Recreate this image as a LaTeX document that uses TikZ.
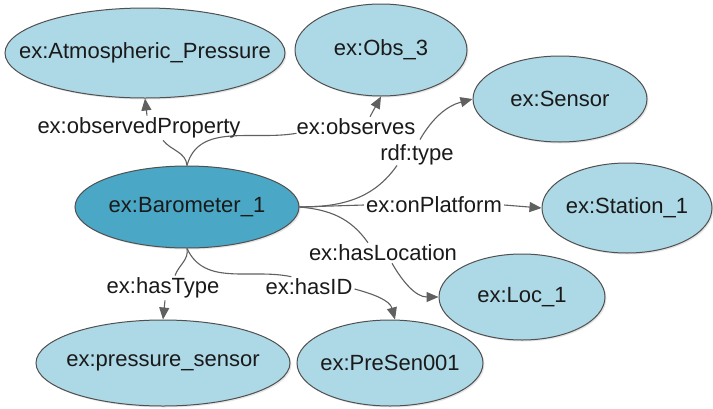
\documentclass[tikz,border=0pt]{standalone}
\usepackage{fontspec}
\setmainfont{Liberation Sans}
\usetikzlibrary{arrows.meta,shapes.geometric,calc,shadows}
\definecolor{nodefill}{HTML}{ADD8E6}
\definecolor{focusfill}{HTML}{4AA8C6}
\definecolor{rim}{HTML}{505050}
\definecolor{wire}{HTML}{606060}
\definecolor{ink}{HTML}{1A1A1A}
% centred text of zero width, so the ellipse keeps its given size
\newcommand{\restext}[1]{\makebox[0pt]{#1}}
\begin{document}
\begin{tikzpicture}[x=1pt,y=1pt,
  resource/.style={ellipse, draw=rim, line width=1pt, fill=nodefill, inner sep=0pt,
    text=ink, font=\fontsize{22}{24}\selectfont,
    drop shadow={shadow xshift=1.5pt, shadow yshift=-1.5pt, opacity=0.2}},
  focus/.style={resource, fill=focusfill},
  prop/.style={inner sep=2pt, text=ink, font=\fontsize{22}{24}\selectfont},
  link/.style={draw=wire, line width=1.1pt},
  arrow/.style={link, -{Triangle[length=12pt,width=10pt]}}]
  % canvas
  \fill[white] (0,0) rectangle (713,-408);
  \useasboundingbox (0,0) rectangle (713,-408);

  % resources
  \node[resource, minimum width=280pt, minimum height=90pt] (atm) at (145,-53) {\restext{ex:Atmospheric\_Pressure}};
  \node[resource, minimum width=172pt, minimum height=92pt] (obs3) at (381,-50) {\restext{ex:Obs\_3}};
  \node[resource, minimum width=174pt, minimum height=86pt] (sen) at (560,-99) {\restext{ex:Sensor}};
  \node[resource, minimum width=170pt, minimum height=90pt] (sta) at (627,-208) {\restext{ex:Station\_1}};
  \node[focus, minimum width=224pt, minimum height=82pt] (baro) at (187,-207) {\restext{ex:Barometer\_1}};
  \node[resource, minimum width=166pt, minimum height=86pt] (loc) at (522,-297) {\restext{ex:Loc\_1}};
  \node[resource, minimum width=254pt, minimum height=86pt] (pre) at (163,-363) {\restext{ex:pressure\_sensor}};
  \node[resource, minimum width=186pt, minimum height=86pt] (pid) at (390,-363) {\restext{ex:PreSen001}};

  % property labels
  \node[prop] (lop) at (139,-128) {ex:observedProperty};
  \node[prop] (lobs) at (356,-127) {ex:observes};
  \node[prop] (rdf) at (417,-155) {rdf:type};
  \node[prop] (lon) at (434,-205) {ex:onPlatform};
  \node[prop] (lhl) at (383,-253) {ex:hasLocation};
  \node[prop] (lht) at (163,-288) {ex:hasType};
  \node[prop] (lid) at (309,-287) {ex:hasID};

  % ex:observedProperty
  \draw[link] (baro.north) to[out=95,in=-50] ($(lop.south)+(24,0)$);
  \draw[arrow] ($(lop.north)+(8,0)$) -- (atm.south);
  % ex:observes
  \draw[link] (baro.north) to[out=75,in=190] ($(lobs.south west)+(2,4)$);
  \draw[arrow] ($(lobs.north)+(14,0)$) -- (obs3.south);
  % rdf:type
  \draw[link] (baro.east) to[out=0,in=-125] ($(rdf.south)+(-20,2)$);
  \draw[arrow] ($(rdf.north)+(3,3)$) to[out=60,in=195] (sen.west);
  % ex:onPlatform
  \draw[link] (baro.east) -- (lon.west);
  \draw[arrow] (lon.east) -- (sta.west);
  % ex:hasLocation
  \draw[link] (baro.east) to[out=-5,in=125] ($(lhl.north)+(-15,0)$);
  \draw[arrow] ($(lhl.south)+(9,0)$) to[out=-60,in=180] (loc.west);
  % ex:hasType
  \draw[link] (baro.south) to[out=-80,in=70] ($(lht.north)+(12,0)$);
  \draw[arrow] ($(lht.south)+(2,0)$) -- (pre.north);
  % ex:hasID
  \draw[link] (baro.south) to[out=-65,in=168] ($(lid.north west)+(28,0)$);
  \draw[arrow] ($(lid.east)+(0,-2)$) to[out=-15,in=105] ($(pid.north)+(5,0)$);
\end{tikzpicture}
\end{document}
